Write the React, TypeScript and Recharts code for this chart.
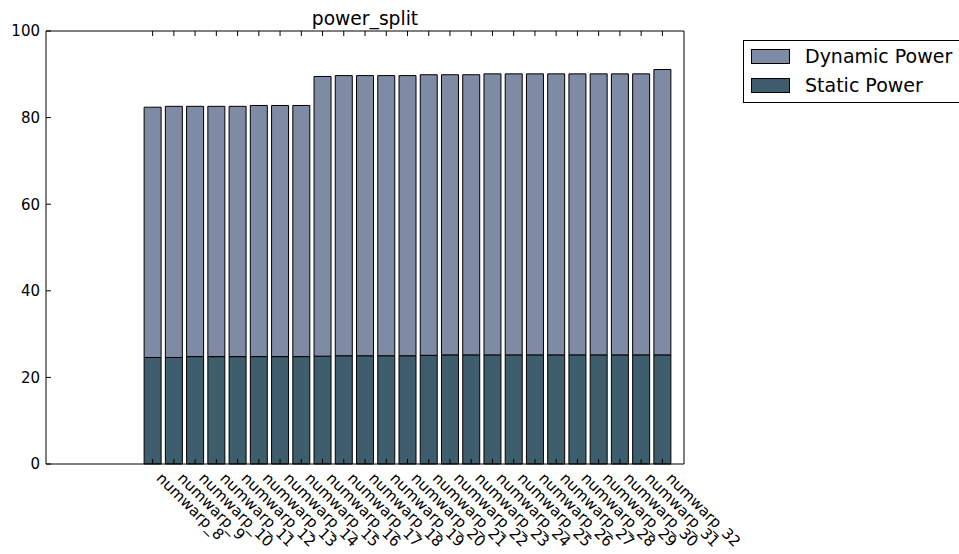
import React from 'react';
import { BarChart, Bar, XAxis, YAxis, Legend, Customized } from 'recharts';

// Warp-count configurations on the x axis
const categories = [
  'numwarp_8', 'numwarp_9', 'numwarp_10', 'numwarp_11', 'numwarp_12', 'numwarp_13',
  'numwarp_14', 'numwarp_15', 'numwarp_16', 'numwarp_17', 'numwarp_18', 'numwarp_19',
  'numwarp_20', 'numwarp_21', 'numwarp_22', 'numwarp_23', 'numwarp_24', 'numwarp_25',
  'numwarp_26', 'numwarp_27', 'numwarp_28', 'numwarp_29', 'numwarp_30', 'numwarp_31',
  'numwarp_32',
];

// Static power per configuration (bottom of each stack)
const staticPower = [
  24.6, 24.6, 24.8, 24.8, 24.8, 24.8, 24.8, 24.8, 24.9, 25.0, 25.0, 25.0, 25.0,
  25.1, 25.2, 25.2, 25.2, 25.2, 25.2, 25.2, 25.2, 25.2, 25.2, 25.2, 25.2,
];

// Dynamic power per configuration (stacked on top)
const dynamicPower = [
  57.8, 58.0, 57.8, 57.8, 57.8, 58.0, 58.0, 58.0, 64.6, 64.7, 64.7, 64.7, 64.7,
  64.8, 64.7, 64.7, 64.9, 64.9, 64.9, 64.9, 64.9, 64.9, 64.9, 64.9, 65.9,
];

const yTicks = [0, 20, 40, 60, 80, 100];

const data = categories.map((name, i) => ({
  name,
  staticPower: staticPower[i],
  dynamicPower: dynamicPower[i],
}));

const FONT = 'DejaVu Sans, sans-serif';
const DYN_COLOR = '#7f8aa5';
const STAT_COLOR = '#3f5e6d';

const PLOT_LEFT = 46;
const PLOT_RIGHT = 684;
const PLOT_TOP = 31;
const PLOT_BOTTOM = 464;
const TICK_LEN = 5;

const BottomTick = (props: any) => {
  const { x, payload } = props;
  const ax = x + 3;
  const ay = PLOT_BOTTOM + 15;
  return (
    <g>
      <line x1={x} y1={PLOT_BOTTOM} x2={x} y2={PLOT_BOTTOM - TICK_LEN} stroke="#000" strokeWidth={1} />
      <text
        x={ax}
        y={ay}
        transform={`rotate(45, ${ax}, ${ay})`}
        textAnchor="start"
        fontFamily={FONT}
        fontSize={15}
        fill="#000"
      >
        {payload.value}
      </text>
    </g>
  );
};

const TopTick = (props: any) => {
  const { x } = props;
  return <line x1={x} y1={PLOT_TOP} x2={x} y2={PLOT_TOP + TICK_LEN} stroke="#000" strokeWidth={1} />;
};

const LeftTick = (props: any) => {
  const { y, payload } = props;
  return (
    <g>
      <line x1={PLOT_LEFT} y1={y} x2={PLOT_LEFT + TICK_LEN} y2={y} stroke="#000" strokeWidth={1} />
      <text
        x={PLOT_LEFT - 6}
        y={y}
        dy="0.36em"
        textAnchor="end"
        fontFamily={FONT}
        fontSize={15}
        fill="#000"
      >
        {payload.value}
      </text>
    </g>
  );
};

const RightTick = (props: any) => {
  const { y } = props;
  return <line x1={PLOT_RIGHT} y1={y} x2={PLOT_RIGHT - TICK_LEN} y2={y} stroke="#000" strokeWidth={1} />;
};

const legendItems = [
  { label: 'Dynamic Power', color: DYN_COLOR },
  { label: 'Static Power', color: STAT_COLOR },
];

const LegendBox = () => (
  <svg width={240} height={64} style={{ display: 'block', overflow: 'visible' }}>
    <rect x={0.5} y={0.5} width={238} height={62} fill="#fff" stroke="#000" strokeWidth={1} />
    {legendItems.map((item, i) => (
      <g key={item.label}>
        <rect
          x={8.5}
          y={9.5 + i * 29}
          width={38}
          height={14}
          fill={item.color}
          stroke="#000"
          strokeWidth={1}
        />
        <text
          x={62}
          y={16.5 + i * 29}
          dy="0.36em"
          fontFamily={FONT}
          fontSize={19}
          fill="#000"
        >
          {item.label}
        </text>
      </g>
    ))}
  </svg>
);

const Title = () => (
  <text
    x={(PLOT_LEFT + PLOT_RIGHT) / 2}
    y={25}
    textAnchor="middle"
    fontFamily={FONT}
    fontSize={18.7}
    fill="#000"
  >
    power_split
  </text>
);

export default function App() {
  return (
    <div style={{ position: 'absolute', left: 0, top: 0, width: 959, height: 554, background: '#fff' }}>
      <BarChart
        width={959}
        height={554}
        data={data}
        margin={{ top: PLOT_TOP - 1, right: 959 - PLOT_RIGHT - 1, bottom: 554 - PLOT_BOTTOM - 1, left: 0 }}
        barCategoryGap="10%"
      >
        <XAxis
          dataKey="name"
          xAxisId="bottom"
          orientation="bottom"
          height={1}
          padding={{ left: 96, right: 11 }}
          interval={0}
          tickSize={0}
          tickMargin={0}
          tick={<BottomTick />}
          axisLine={{ stroke: '#000', strokeWidth: 1 }}
          tickLine={false}
        />
        <XAxis
          dataKey="name"
          xAxisId="top"
          orientation="top"
          height={1}
          padding={{ left: 96, right: 11 }}
          interval={0}
          tickSize={0}
          tickMargin={0}
          tick={<TopTick />}
          axisLine={{ stroke: '#000', strokeWidth: 1 }}
          tickLine={false}
        />
        <YAxis
          yAxisId="left"
          orientation="left"
          width={PLOT_LEFT}
          domain={[0, 100]}
          ticks={yTicks}
          tickSize={0}
          tickMargin={0}
          tick={<LeftTick />}
          axisLine={{ stroke: '#000', strokeWidth: 1 }}
          tickLine={false}
        />
        <YAxis
          yAxisId="right"
          orientation="right"
          width={1}
          domain={[0, 100]}
          ticks={yTicks}
          tickSize={0}
          tickMargin={0}
          tick={<RightTick />}
          axisLine={{ stroke: '#000', strokeWidth: 1 }}
          tickLine={false}
        />
        <Bar
          dataKey="staticPower"
          name="Static Power"
          stackId="power"
          xAxisId="bottom"
          yAxisId="left"
          fill={STAT_COLOR}
          stroke="#000"
          strokeWidth={1}
          isAnimationActive={false}
        />
        <Bar
          dataKey="dynamicPower"
          name="Dynamic Power"
          stackId="power"
          xAxisId="bottom"
          yAxisId="left"
          fill={DYN_COLOR}
          stroke="#000"
          strokeWidth={1}
          isAnimationActive={false}
        />
        <Legend
          layout="horizontal"
          align="center"
          verticalAlign="middle"
          content={<LegendBox />}
          wrapperStyle={{ position: 'absolute', left: 743, top: 40, width: 240, height: 64 }}
        />
        <Customized component={<Title />} />
      </BarChart>
    </div>
  );
}
